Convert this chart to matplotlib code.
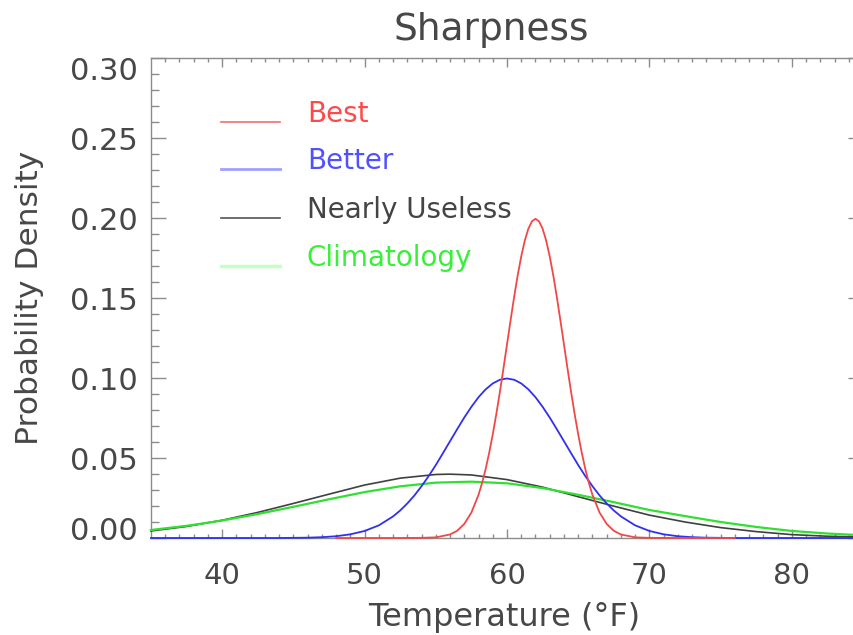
import matplotlib
matplotlib.use("Agg")
import matplotlib.pyplot as plt
import matplotlib.transforms as mtransforms

# ---------------- data ----------------
best_x = [48, 52, 54, 55, 56, 56.5, 57, 57.5,
          58, 58.25, 58.5, 58.75, 59, 59.25, 59.5, 59.75,
          60, 60.25, 60.5, 60.75, 61, 61.25, 61.5, 61.75,
          62, 62.25, 62.5, 62.75, 63, 63.25, 63.5, 63.75,
          64, 64.25, 64.5, 64.75, 65, 65.25, 65.5, 65.75,
          66, 66.5, 67, 67.5, 68, 69, 70, 72, 76]
best_y = [0.0, 0.0, 0.0001, 0.0004, 0.0022, 0.0045, 0.0088, 0.0159,
          0.0270, 0.0344, 0.0431, 0.0533, 0.0648, 0.0775, 0.0913, 0.1059,
          0.1210, 0.1360, 0.1506, 0.1641, 0.1760, 0.1859, 0.1933, 0.1979,
          0.1995, 0.1979, 0.1933, 0.1859, 0.1760, 0.1641, 0.1506, 0.1360,
          0.1210, 0.1059, 0.0913, 0.0775, 0.0648, 0.0533, 0.0431, 0.0344,
          0.0270, 0.0159, 0.0088, 0.0045, 0.0022, 0.0004, 0.0001, 0.0, 0.0]

better_x = [35, 42, 44, 45, 46, 47, 48, 49, 50, 51, 52, 52.5, 53, 53.5, 54, 54.5,
            55, 55.5, 56, 56.5, 57, 57.5, 58, 58.5, 59, 59.5, 60,
            60.5, 61, 61.5, 62, 62.5, 63, 63.5, 64, 64.5, 65, 65.5, 66, 66.5,
            67, 67.5, 68, 69, 70, 71, 72, 73, 74, 75, 76, 78, 85]
better_y = [0.0, 0.0, 0.0000, 0.0001, 0.0002, 0.0005, 0.0011, 0.0023, 0.0044, 0.0079,
            0.0135, 0.0172, 0.0216, 0.0266, 0.0324, 0.0387,
            0.0456, 0.0530, 0.0605, 0.0680, 0.0753, 0.0820, 0.0880, 0.0929,
            0.0966, 0.0989, 0.0997,
            0.0989, 0.0966, 0.0929, 0.0880, 0.0820, 0.0753, 0.0680, 0.0605, 0.0530,
            0.0456, 0.0387, 0.0324, 0.0266, 0.0216, 0.0172, 0.0135, 0.0079,
            0.0044, 0.0023, 0.0011, 0.0005, 0.0002, 0.0001, 0.0000, 0.0, 0.0]

useless_x = [35, 37.5, 40, 42.5, 45, 47.5, 50, 52.5, 55, 56, 57.5, 60, 62.5, 65, 67.5,
             70, 72.5, 75, 77.5, 80, 82.5, 85]
useless_y = [0.0044, 0.0072, 0.0111, 0.0160, 0.0216, 0.0274, 0.0331, 0.0374, 0.0397,
             0.0399, 0.0394, 0.0365, 0.0318, 0.0258, 0.0199, 0.0143, 0.0100, 0.0065,
             0.0040, 0.0021, 0.0011, 0.0006]

clim_x = [35, 37.5, 40, 42.5, 45, 47.5, 50, 52.5, 55, 57.5, 60, 62.5, 65, 67.5, 70,
          72.5, 75, 77.5, 80, 82.5, 85]
clim_y = [0.0050, 0.0076, 0.0109, 0.0150, 0.0195, 0.0242, 0.0287, 0.0323, 0.0346,
          0.0352, 0.0342, 0.0312, 0.0270, 0.0224, 0.0175, 0.0137, 0.0100, 0.0069,
          0.0044, 0.0028, 0.0017]

series_names = ["Best", "Better", "Nearly Useless", "Climatology"]
x_ticks = [40, 50, 60, 70, 80]
y_ticks = [0.00, 0.05, 0.10, 0.15, 0.20, 0.25, 0.30]
y_tick_labels = ["0.00", "0.05", "0.10", "0.15", "0.20", "0.25", "0.30"]

# ---------------- styling ----------------
plt.rcParams['font.family'] = ['DejaVu Sans']
TXT = '#474747'
AX = '#8c8c8c'
curve_colors = ['#f04848', '#3030f0', '#404040', '#30e030']
legend_line_colors = ['#f07070', '#a0a0ff', '#555555', '#c4ffc4']
legend_text_colors = ['#ff4848', '#5050ff', '#444444', '#38f038']

W, H = 854, 635
fig = plt.figure(figsize=(W / 100, H / 100), dpi=100)
ax = fig.add_axes([151 / W, 1 - 538 / H, 712 / W, 480 / H])

ax.set_xlim(35, 85)
ax.set_ylim(0.0, 0.30)

# curves
ax.plot(useless_x, useless_y, color=curve_colors[2], lw=1.2, zorder=3, clip_on=False)
ax.plot(clim_x, clim_y, color=curve_colors[3], lw=1.6, zorder=4, clip_on=False)
ax.plot(better_x, better_y, color=curve_colors[1], lw=1.3, zorder=5, clip_on=False)
ax.plot(best_x, best_y, color=curve_colors[0], lw=1.3, zorder=6, clip_on=False)

# spines / ticks
for s in ax.spines.values():
    s.set_color(AX)
    s.set_linewidth(1.0)
    s.set_zorder(2)

ax.set_xticks(x_ticks)
ax.set_xticks(list(range(36, 85)), minor=True)
ax.set_yticks(y_ticks)
ax.set_yticklabels(y_tick_labels)
ax.set_yticks([i / 100 for i in range(0, 31)], minor=True)

ax.tick_params(axis='x', which='major', direction='in', length=6.5, width=1.0,
               color=AX, top=True, bottom=True, labelsize=21, labelcolor=TXT, pad=17)
ax.tick_params(axis='x', which='minor', direction='in', length=3.0, width=1.0,
               color=AX, top=True, bottom=True)
ax.tick_params(axis='y', which='major', direction='in', length=10.8, width=1.0,
               color=AX, left=True, right=True, labelsize=22, labelcolor=TXT, pad=9.4)
ax.tick_params(axis='y', which='minor', direction='in', length=5.8, width=1.0,
               color=AX, left=True, right=True)

# shift end y labels inward as in the reference
ylabels = ax.get_yticklabels()
ylabels[0].set_transform(ylabels[0].get_transform() +
                         mtransforms.ScaledTranslation(0, 10 / 100, fig.dpi_scale_trans))
ylabels[-1].set_transform(ylabels[-1].get_transform() +
                          mtransforms.ScaledTranslation(0, -11 / 100, fig.dpi_scale_trans))

# title & axis labels
fig.text(491 / W, 1 - 40 / H, "Sharpness", ha='center', va='baseline',
         fontsize=27, color=TXT)
fig.text(504 / W, 1 - 626 / H, "Temperature (°F)", ha='center', va='baseline',
         fontsize=23, color=TXT)
fig.text(30 / W, 1 - 298 / H, "Probability Density", ha='center', va='center',
         rotation=90, fontsize=22.5, color=TXT)

# manual legend
leg_y = [0.867, 0.769, 0.667, 0.567]
leg_lw = [1.2, 2.0, 1.2, 2.5]
for name, yy, lc, tc, lw in zip(series_names, leg_y, legend_line_colors,
                                legend_text_colors, leg_lw):
    ax.plot([0.098, 0.181], [yy, yy], transform=ax.transAxes, color=lc, lw=lw,
            zorder=7)
    ax.text(0.219, yy, name, transform=ax.transAxes, ha='left', va='baseline',
            fontsize=20, color=tc, zorder=7)

fig.savefig("out.png", dpi=100)
